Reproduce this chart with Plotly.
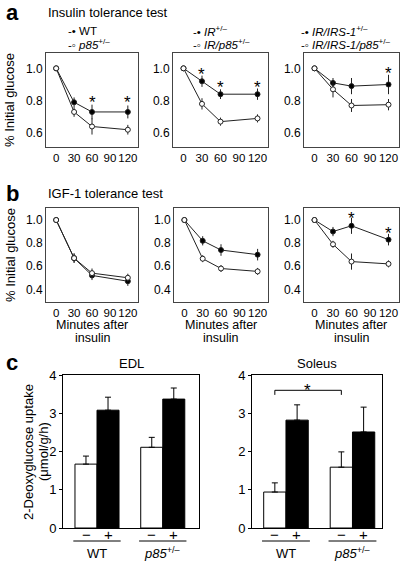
import plotly.graph_objects as go

W, H = 403, 562
FONT = "Liberation Sans, Arial, sans-serif"

# ---------------- data ----------------
time_min = [0, 30, 60, 120]
x_tick_vals = [0, 30, 60, 90, 120]

# a: insulin tolerance test
itt_wt = [1.0, 0.79, 0.73, 0.73]
itt_wt_err = [0, 0.03, 0.045, 0.04]
itt_p85 = [1.0, 0.73, 0.64, 0.62]
itt_p85_err = [0, 0.03, 0.05, 0.03]
itt_ir = [1.0, 0.92, 0.84, 0.84]
itt_ir_err = [0, 0.035, 0.03, 0.035]
itt_ir_p85 = [1.0, 0.78, 0.67, 0.69]
itt_ir_p85_err = [0, 0.035, 0.025, 0.025]
itt_irs = [1.0, 0.91, 0.89, 0.90]
itt_irs_err = [0, 0.03, 0.05, 0.06]
itt_irs_p85 = [1.0, 0.87, 0.77, 0.775]
itt_irs_p85_err = [0, 0.05, 0.04, 0.035]

# b: IGF-1 tolerance test
igf_wt = [1.0, 0.67, 0.52, 0.47]
igf_wt_err = [0, 0.04, 0.04, 0.04]
igf_p85 = [1.0, 0.67, 0.54, 0.50]
igf_p85_err = [0, 0.04, 0.04, 0.035]
igf_ir = [1.0, 0.82, 0.74, 0.70]
igf_ir_err = [0, 0.04, 0.05, 0.05]
igf_ir_p85 = [1.0, 0.665, 0.58, 0.555]
igf_ir_p85_err = [0, 0.03, 0.03, 0.03]
igf_irs = [1.0, 0.90, 0.95, 0.83]
igf_irs_err = [0, 0.04, 0.07, 0.05]
igf_irs_p85 = [1.0, 0.79, 0.64, 0.62]
igf_irs_p85_err = [0, 0.03, 0.07, 0.03]

# significance marks (time, y)
sig_a1 = ([60, 120], [0.82, 0.82])
sig_a2 = ([30, 60, 120], [0.99, 0.91, 0.91])
sig_a3 = ([120], [1.0])
sig_b3 = ([60, 120], [1.06, 0.93])

# c: 2-deoxyglucose uptake
groups = ["WT", "p85"]
group_labels = ["WT", "<i>p85</i><sup>+/–</sup>"]
edl_basal = [1.67, 2.11]
edl_basal_err = [0.21, 0.26]
edl_ins = [3.08, 3.37]
edl_ins_err = [0.34, 0.29]
sol_basal = [0.94, 1.59]
sol_basal_err = [0.24, 0.40]
sol_ins = [2.82, 2.51]
sol_ins_err = [0.40, 0.65]

# ---------------- helpers ----------------
def fx(p):
    return p / W

def fy(p):
    return 1 - p / H

def txt(x, y, text, size=13, xref="paper", yref="paper", xanchor="center", yanchor="middle", **kw):
    d = dict(x=x, y=y, xref=xref, yref=yref, text=text, showarrow=False,
             xanchor=xanchor, yanchor=yanchor,
             font=dict(size=size, color="black", family=FONT))
    d.update(kw)
    return d

fig = go.Figure()
annotations = []
shapes = []

line_panels = [
    (1, (46, 138), (53, 147), (0.513, 1.095), [0.6, 0.8, 1.0], itt_wt, itt_wt_err, itt_p85, itt_p85_err, sig_a1),
    (2, (173, 268), (53, 147), (0.513, 1.095), [0.6, 0.8, 1.0], itt_ir, itt_ir_err, itt_ir_p85, itt_ir_p85_err, sig_a2),
    (3, (304, 399), (53, 147), (0.513, 1.095), [0.6, 0.8, 1.0], itt_irs, itt_irs_err, itt_irs_p85, itt_irs_p85_err, sig_a3),
    (4, (46, 138), (208, 302), (0.29, 1.104), [0.4, 0.6, 0.8, 1.0], igf_wt, igf_wt_err, igf_p85, igf_p85_err, None),
    (5, (174, 268), (208, 302), (0.29, 1.104), [0.4, 0.6, 0.8, 1.0], igf_ir, igf_ir_err, igf_ir_p85, igf_ir_p85_err, None),
    (6, (304, 399), (208, 302), (0.29, 1.104), [0.4, 0.6, 0.8, 1.0], igf_irs, igf_irs_err, igf_irs_p85, igf_irs_p85_err, sig_b3),
]

layout_axes = {}
for n, xd, yd, yr, ytv, fil, fil_e, opn, opn_e, sig in line_panels:
    xa = "x" if n == 1 else f"x{n}"
    ya = "y" if n == 1 else f"y{n}"
    for vals, errs, mcol in ((fil, fil_e, "black"), (opn, opn_e, "white")):
        fig.add_trace(go.Scatter(
            x=time_min, y=vals, xaxis=xa, yaxis=ya, mode="lines+markers",
            line=dict(color="#222", width=1),
            marker=dict(symbol="circle", size=5, color=mcol, line=dict(color="#222", width=1)),
            error_y=dict(type="data", array=errs, color="#222", thickness=1, width=0),
            showlegend=False, cliponaxis=False,
        ))
    key = "" if n == 1 else str(n)
    layout_axes["xaxis" + key] = dict(
        domain=[fx(xd[0]), fx(xd[1])], range=[-17, 137], anchor=ya,
        tickvals=x_tick_vals, tickangle=0, ticks="", showline=True, mirror=True, linecolor="#444",
        linewidth=1, showgrid=False, zeroline=False,
        tickfont=dict(size=11.5, color="black", family=FONT),
    )
    layout_axes["yaxis" + key] = dict(
        domain=[fy(yd[1]), fy(yd[0])], range=list(yr), anchor=xa,
        tickvals=ytv, tickformat=".1f", ticks="", showline=True, mirror=True, linecolor="#444",
        linewidth=1, showgrid=False, zeroline=False,
        tickfont=dict(size=12, color="black", family=FONT),
    )
    if sig:
        for sx, sy in zip(*sig):
            annotations.append(txt(sx, sy, "*", size=17, xref=xa, yref=ya, yshift=-5))

# bar panels
bar_panels = [
    (7, (63, 199), [-0.517, 1.551], edl_basal, edl_basal_err, edl_ins, edl_ins_err, "EDL"),
    (8, (252, 382), [-0.511, 1.444], sol_basal, sol_basal_err, sol_ins, sol_ins_err, "Soleus"),
]
for n, xd, xr, bas, bas_e, ins, ins_e, title in bar_panels:
    xa, ya = f"x{n}", f"y{n}"
    fig.add_trace(go.Bar(x=groups, y=bas, xaxis=xa, yaxis=ya, offsetgroup="basal",
                         marker=dict(color="white", line=dict(color="black", width=1)),
                         error_y=dict(type="data", array=bas_e, arrayminus=[0] * len(bas), symmetric=False,
                                      color="black", thickness=1, width=3),
                         showlegend=False))
    fig.add_trace(go.Bar(x=groups, y=ins, xaxis=xa, yaxis=ya, offsetgroup="insulin",
                         marker=dict(color="black", line=dict(color="black", width=1)),
                         error_y=dict(type="data", array=ins_e, arrayminus=[0] * len(ins), symmetric=False,
                                      color="black", thickness=1, width=3),
                         showlegend=False))
    layout_axes[f"xaxis{n}"] = dict(
        domain=[fx(xd[0]), fx(xd[1])], range=xr, anchor=ya, type="category",
        showticklabels=False, ticks="", showline=True, mirror=True, linecolor="black", linewidth=1,
        showgrid=False, zeroline=False,
    )
    layout_axes[f"yaxis{n}"] = dict(
        domain=[fy(528), fy(375)], range=[0, 4], anchor=xa, dtick=1, ticks="outside", ticklen=3,
        tickcolor="black", showline=True, mirror=True, linecolor="black", linewidth=1,
        showgrid=False, zeroline=False, tickfont=dict(size=13, color="black", family=FONT),
    )
    annotations.append(txt((fx(xd[0]) + fx(xd[1])) / 2, fy(363), title))
    for gi, gl in enumerate(group_labels):
        for sign, shift in (("−", -11), ("+", 11)):
            annotations.append(txt(gi, fy(534), sign, size=15, xref=xa, xshift=shift))
        shapes.append(dict(type="line", xref=xa, yref="paper", x0=gi - 0.36, x1=gi + 0.36,
                           y0=fy(541), y1=fy(541), line=dict(color="black", width=1)))
        annotations.append(txt(gi, fy(553), gl, xref=xa))

# soleus bracket between basal WT and basal p85
shapes.append(dict(type="path", xref="x8", yref="y8",
                   path="M -0.1675,3.48 L -0.1675,3.6 L 0.8325,3.6 L 0.8325,3.48",
                   line=dict(color="black", width=1)))
annotations.append(txt(0.33, 3.72, "*", size=17, xref="x8", yref="y8", yshift=-5))

# panel letters and titles
for letter, py in (("a", 13), ("b", 193), ("c", 362)):
    annotations.append(txt(fx(4), fy(py), f"<b>{letter}</b>", size=22, xanchor="left"))
annotations.append(txt(fx(46), fy(13), "Insulin tolerance test", xanchor="left"))
annotations.append(txt(fx(46), fy(193), "IGF-1 tolerance test", xanchor="left"))

# legends
legend_rows = [
    (66, "WT", "<i>p85</i><sup>+/–</sup>"),
    (191, "<i>IR</i><sup>+/–</sup>", "<i>IR/p85</i><sup>+/–</sup>"),
    (299, "<i>IR/IRS-1</i><sup>+/–</sup>", "<i>IR/IRS-1/p85</i><sup>+/–</sup>"),
]
for lx, t1, t2 in legend_rows:
    annotations.append(txt(fx(lx), fy(31), "-• " + t1, size=11.5, xanchor="left"))
    annotations.append(txt(fx(lx), fy(44), "-◦ " + t2, size=11.5, xanchor="left"))

# y axis titles
for cy in (100, 255):
    annotations.append(txt(fx(10), fy(cy), "% Initial glucose", textangle=-90))
annotations.append(txt(fx(28), fy(452), "2-Deoxyglucose uptake", textangle=-90))
annotations.append(txt(fx(43), fy(452), "(μmol/g/h)", textangle=-90))

# x axis titles for b row
for cx in (92, 221, 351):
    annotations.append(txt(fx(cx), fy(325), "Minutes after", size=12.5))
    annotations.append(txt(fx(cx), fy(338), "insulin", size=12.5))

fig.update_layout(
    width=W, height=H, margin=dict(l=0, r=0, t=0, b=0, pad=0, autoexpand=False),
    paper_bgcolor="white", plot_bgcolor="white",
    font=dict(family=FONT, color="black"),
    barmode="group", bargap=0.33, bargroupgap=0,
    annotations=annotations, shapes=shapes, showlegend=False,
    **layout_axes,
)
fig.write_html("out.html", config={"displayModeBar": False},
               post_script="document.body.style.margin='0px';")
